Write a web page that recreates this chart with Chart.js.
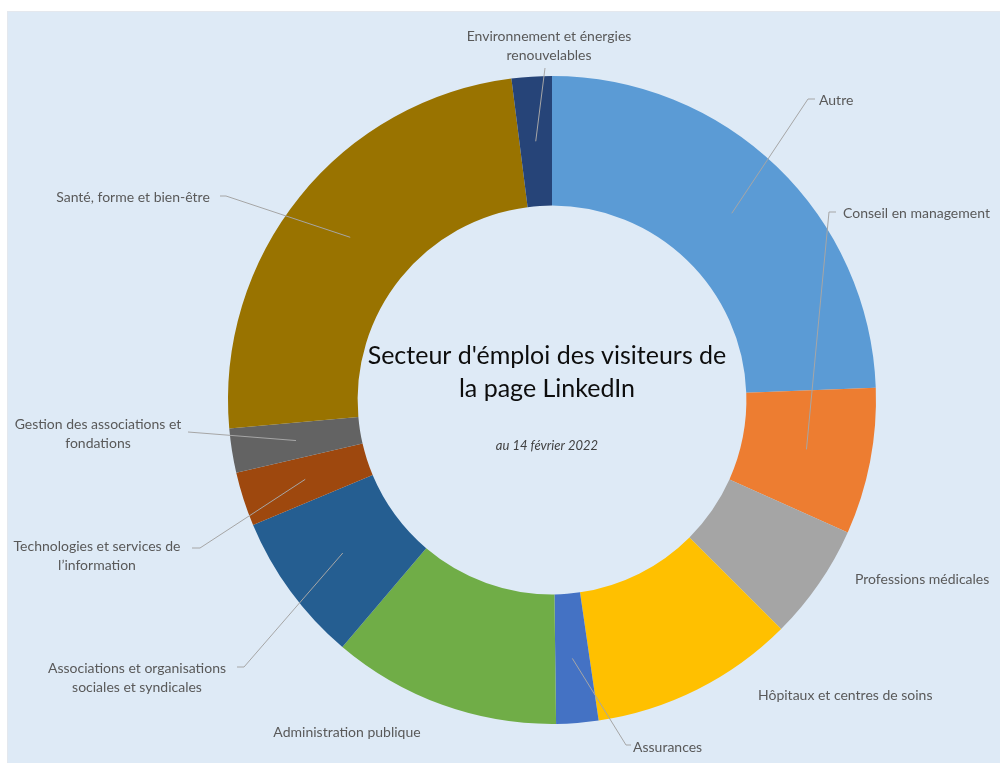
<!DOCTYPE html>
<html>
<head>
<meta charset="utf-8">
<script src="https://cdn.jsdelivr.net/npm/chart.js@4/dist/chart.umd.min.js"></script>
<style>
  html, body { margin: 0; padding: 0; background: #fff; }
  #wrap { width: 1000px; height: 763px; position: relative; }
</style>
</head>
<body>
<div id="wrap"><canvas id="myChart" width="1000" height="763"></canvas></div>
<script>
// secteurs, dans l'ordre du graphique (sens horaire depuis midi)
const sectors = [
    'Autre',
    'Conseil en management',
    'Professions médicales',
    'Hôpitaux et centres de soins',
    'Assurances',
    'Administration publique',
    'Associations et organisations sociales et syndicales',
    'Technologies et services de l’information',
    'Gestion des associations et fondations',
    'Santé, forme et bien-être',
    'Environnement et énergies renouvelables'
];
// part des visiteurs (%)
const shares = [24.4, 7.3, 5.8, 10.2, 2.1, 11.4, 7.5, 2.7, 2.2, 24.4, 2.0];
const sliceColors = ['#5B9BD5', '#ED7D31', '#A5A5A5', '#FFC000', '#4472C4', '#70AD47',
                     '#255E91', '#9E480E', '#636363', '#997300', '#264478'];
// libellés affichés (retours à la ligne)
const labelLines = [
    ['Autre'],
    ['Conseil en management'],
    ['Professions médicales'],
    ['Hôpitaux et centres de soins'],
    ['Assurances'],
    ['Administration publique'],
    ['Associations et organisations', 'sociales et syndicales'],
    ['Technologies et services de', 'l’information'],
    ['Gestion des associations et', 'fondations'],
    ['Santé, forme et bien-être'],
    ['Environnement et énergies', 'renouvelables']
];

// placement des étiquettes : x, y du 1er texte, alignement, fin de ligne de rappel
const labelPlaces = [
    { x: 819, y: 100, align: 'left',   end: [808, 99],  tick: 7 },
    { x: 843, y: 213, align: 'left',   end: [829, 212], tick: 7 },
    { x: 855, y: 579, align: 'left',   end: null },
    { x: 758, y: 695, align: 'left',   end: null },
    { x: 633, y: 747, align: 'left',   end: [626, 745], tick: 5 },
    { x: 347, y: 732, align: 'center', end: null },
    { x: 137, y: 668, align: 'center', end: [244, 667], tick: -7 },
    { x: 97,  y: 546, align: 'center', end: [200, 548], tick: -8 },
    { x: 98,  y: 424, align: 'center', end: [188, 432], tick: 0 },
    { x: 133, y: 197, align: 'center', end: [226, 196], tick: -6 },
    { x: 549, y: 36,  align: 'center', end: [545, 68],  tick: 0 }
];

const bg = '#DEEAF6';
const labelFont = '14px Lato';
const lineH = 19;

const frame = {
    id: 'frame',
    beforeDraw(chart) {
        const c = chart.ctx;
        c.save();
        c.fillStyle = '#ffffff';
        c.fillRect(0, 0, chart.width, chart.height);
        c.fillStyle = '#E4E8EE';
        c.fillRect(7, 11, chart.width - 7, chart.height - 11);
        c.fillStyle = bg;
        c.fillRect(8, 12, chart.width - 8, chart.height - 12);
        c.restore();
    }
};

const leaderLabels = {
    id: 'leaderLabels',
    afterDraw(chart) {
        const c = chart.ctx;
        const arcs = chart.getDatasetMeta(0).data;
        c.save();
        // lignes de rappel
        c.strokeStyle = '#A6A6A6';
        c.lineWidth = 1;
        arcs.forEach((arc, i) => {
            const pl = labelPlaces[i];
            if (!pl.end) return;
            const p = arc.tooltipPosition(true);
            c.beginPath();
            c.moveTo(p.x, p.y);
            c.lineTo(pl.end[0], pl.end[1]);
            if (pl.tick) c.lineTo(pl.end[0] + pl.tick, pl.end[1]);
            c.stroke();
        });
        // textes
        c.fillStyle = '#595959';
        c.font = labelFont;
        c.textBaseline = 'middle';
        labelLines.forEach((lines, i) => {
            const pl = labelPlaces[i];
            c.textAlign = pl.align;
            lines.forEach((t, k) => c.fillText(t, pl.x, pl.y + k * lineH));
        });
        // titre au centre
        const a = arcs[0];
        const cx = a.x, cy = a.y;
        c.textAlign = 'center';
        c.fillStyle = '#0D0D0D';
        c.font = '25px Lato';
        c.fillText('Secteur d\'émploi des visiteurs de', cx - 5, cy - 44);
        c.fillText('la page LinkedIn', cx - 5, cy - 11);
        c.fillStyle = '#404040';
        c.font = 'italic 13px Lato';
        c.fillText('au 14 février 2022', cx - 5, cy + 46);
        c.restore();
    }
};

new Chart(document.getElementById('myChart'), {
    type: 'doughnut',
    data: {
        labels: sectors,
        datasets: [{
            data: shares,
            backgroundColor: sliceColors,
            borderWidth: 0,
            hoverOffset: 0
        }]
    },
    options: {
        responsive: false,
        animation: false,
        cutout: '60%',
        layout: { padding: { left: 228, right: 124, top: 76, bottom: 39 } },
        plugins: {
            legend: { display: false },
            tooltip: { enabled: false }
        },
        events: []
    },
    plugins: [frame, leaderLabels]
});
</script>
</body>
</html>
